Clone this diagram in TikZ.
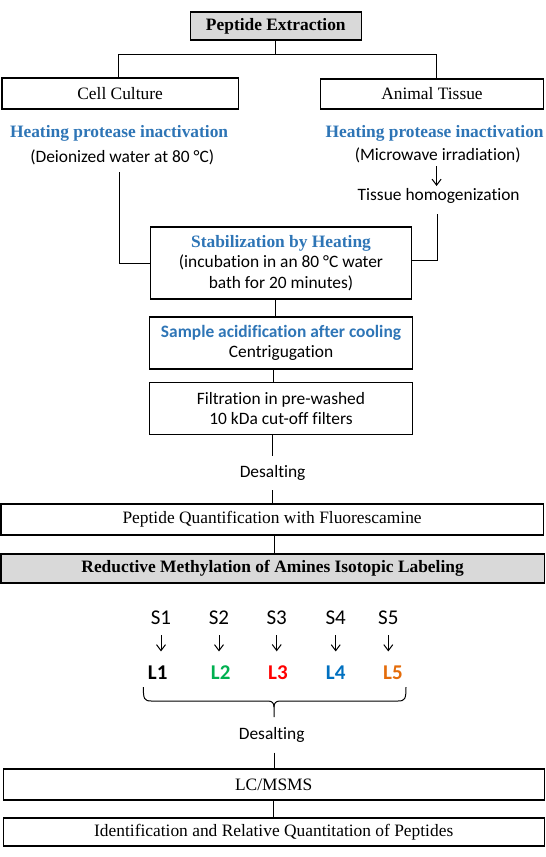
\documentclass[tikz,border=0pt]{standalone}
\usepackage{fontspec}
\setmainfont{Liberation Serif}[Ligatures=NoCommon]
\newfontfamily\calib{Carlito}[Ligatures=NoCommon]
\usetikzlibrary{arrows.meta,calc}
\definecolor{hblue}{HTML}{2E75B6}
\definecolor{boxgray}{HTML}{D9D9D9}
\definecolor{lgreen}{HTML}{00B050}
\definecolor{lred}{HTML}{FF0000}
\definecolor{lblue}{HTML}{0070C0}
\definecolor{lorange}{HTML}{E46C0A}
\newcommand{\bigfs}{\fontsize{17.4}{20.6}\selectfont}
\begin{document}
\begin{tikzpicture}[x=1pt,y=-1pt,
  box/.style={draw, line width=1.2pt, inner sep=0pt, align=center, font=\bigfs},
  txt/.style={inner xsep=2pt, inner ysep=2pt, text height=12pt, text depth=3.6pt, font=\bigfs},
  heading/.style={txt, font=\bigfs\bfseries, text=hblue},
  calt/.style={txt, font=\bigfs\calib},
  desalt/.style={calt, inner ysep=9pt},
  snode/.style={inner sep=0pt, font=\fontsize{21}{24}\selectfont\calib},
  lnode/.style={inner sep=0pt, font=\fontsize{21}{24}\selectfont\calib\bfseries},
  conn/.style={line width=1pt},
  arr/.style={line width=1pt, -{Straight Barb[length=6pt,width=9pt]}},
  sarr/.style={arr, shorten <=10pt, shorten >=14.5pt}
]
\useasboundingbox (0,0) rectangle (546,857);

% top boxes
\node[box, fill=boxgray, minimum width=171.3pt, minimum height=28pt, font=\bigfs\bfseries] (pe) at (275.8,26) {Peptide Extraction};
\node[box, minimum width=236.1pt, minimum height=31pt] (cc) at (120.1,93.5) {Cell Culture};
\node[box, minimum width=223pt, minimum height=30pt] (at) at (432,94) {Animal Tissue};
\coordinate (j) at (275.8,54);
\draw[conn] (pe.south) -- (j);
\draw[conn] (j) -| ([xshift=-2.1pt]cc.north);
\draw[conn] (j) -| ([xshift=4.6pt]at.north);

% left branch
\node[heading] (hl) at (119.1,133) {Heating protease inactivation};
\node[calt] (dl) at (122.2,158) {(Deionized water at 80 °C)};

% right branch
\node[heading] (hr) at (434.6,133) {Heating protease inactivation};
\node[calt] (mr) at (437.7,156) {(Microwave irradiation)};
\node[calt] (th) at (438.7,196) {Tissue homogenization};
\draw[arr] ([xshift=-1.1pt]mr.south) -- ([xshift=-2.1pt]th.north);

% stabilization
\node[box, minimum width=261.2pt, minimum height=72pt] (st) at (281,263)
  {{\bfseries\color{hblue}Stabilization by Heating}\\
   {\calib (incubation in an 80 °C water}\\
   {\calib bath for 20 minutes)}};
\coordinate (c1) at (119.8,172);
\coordinate (c2) at (437.7,214);
\draw[conn] (c1) |- (st.west);
\draw[conn] (c2) |- ([yshift=3pt]st.east);

% sample acidification
\node[box, minimum width=263.2pt, minimum height=52pt, font=\bigfs\calib] (sa) at (281,343)
  {{\bfseries\color{hblue}Sample acidification after cooling}\\ Centrigugation};
\draw[conn] (st.south -| j) -- (sa.north -| j);

% filtration
\node[box, minimum width=263.2pt, minimum height=52pt, font=\bigfs\calib] (fi) at (281,408.5)
  {Filtration in pre-washed\\ 10 kDa cut-off filters};
\coordinate (ax) at (273.7,0);
\draw[conn] (sa.south -| ax) -- (fi.north -| ax);

\node[desalt] (d1) at (272.6,473) {Desalting};
\draw[conn] (fi.south -| d1) -- (d1.north);

% quantification
\node[box, minimum width=542.2pt, minimum height=31pt] (pq) at (272.1,519.5) {Peptide Quantification with Fluorescamine};
\draw[conn] (d1.south) -- (d1.south |- pq.north);

\node[box, fill=boxgray, minimum width=543.2pt, minimum height=29pt, font=\bigfs\bfseries] (rm) at (272.6,568.5)
  {Reductive Methylation of Amines Isotopic Labeling};
\coordinate (ax2) at (274.7,0);
\draw[conn] (pq.south -| ax2) -- (rm.north -| ax2);

% samples and labels
\node[snode] (S1) at (161,618) {S1};
\node[snode] (S2) at (219,618) {S2};
\node[snode] (S3) at (276.7,618) {S3};
\node[snode] (S4) at (335.7,618) {S4};
\node[snode] (S5) at (388.3,618) {S5};
\node[lnode] (L1) at (157.7,673) {L1};
\node[lnode, text=lgreen] (L2) at (220.7,673) {L2};
\node[lnode, text=lred] (L3) at (278,673) {L3};
\node[lnode, text=lblue] (L4) at (335.7,673) {L4};
\node[lnode, text=lorange] (L5) at (393,673) {L5};
\foreach \i in {1,...,5} {
  \draw[sarr] (S\i.south) -- (S\i.south |- L\i.north);
}

% brace
\draw[conn] (143.3,687) .. controls (143.3,699) and (144.3,701) .. (151.3,701)
  -- (268,701) .. controls (272,701) and (274,703) .. (274,707) -- (274,717);
\draw[conn] (406,687) .. controls (406,699) and (405,701) .. (398,701)
  -- (280,701) .. controls (276,701) and (274,703) .. (274,707);

\node[desalt] (d2) at (271.7,735.5) {Desalting};

\node[box, minimum width=541.1pt, minimum height=31pt] (lc) at (273.7,784.5) {LC/MSMS};
\draw[conn] (d2.south -| ax2) -- (lc.north -| ax2);

\node[box, minimum width=541.1pt, minimum height=28pt] (id) at (273.7,832) {Identification and Relative Quantitation of Peptides};
\draw[conn] (lc.south -| ax) -- (id.north -| ax);
\end{tikzpicture}
\end{document}
